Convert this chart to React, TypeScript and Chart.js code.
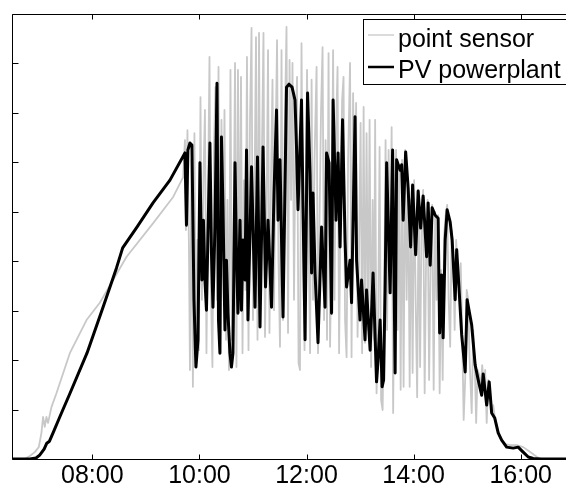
import { useEffect, useRef } from "react";
import { Chart, registerables } from "chart.js";

Chart.register(...registerables);

// time of day in minutes after midnight, values in the (unlabelled) y units 0..900
const sensorTime = [
  390, 404, 410, 415.5, 420, 423, 424.8, 426.7, 428.6, 430.4,
  434.2, 439.8, 454.8, 473.5, 488.4, 503.3, 518.4, 548.2, 570.6, 581.8,
  583.8, 584.9, 586.6, 588.3, 589.4, 591.1, 592.7, 594.4, 596.1, 597.8,
  599.5, 601.2, 602.8, 604.5, 606.2, 607.9, 609.6, 611.3, 612.9, 614.6,
  616.3, 618.0, 619.7, 621.4, 623.0, 624.7, 626.4, 628.1, 629.8, 631.4,
  633.1, 634.8, 636.5, 638.2, 639.9, 641.5, 643.2, 644.9, 646.6, 648.3,
  649.9, 651.6, 653.3, 655.0, 656.7, 658.4, 660.0, 661.7, 663.4, 665.1,
  666.8, 668.5, 670.1, 671.8, 673.5, 675.2, 676.9, 678.5, 680.2, 681.9,
  683.6, 685.3, 687.0, 688.6, 690.3, 692.0, 693.7, 695.4, 697.6, 699.3,
  701.0, 702.7, 704.3, 706.0, 707.7, 709.4, 711.1, 712.7, 714.4, 716.1,
  717.8, 719.5, 720.6, 722.3, 724.0, 725.7, 727.3, 729.0, 731.3, 732.9,
  734.6, 736.3, 738.0, 739.7, 741.4, 743.0, 744.7, 746.4, 748.1, 749.8,
  751.4, 753.1, 754.8, 756.5, 758.2, 759.9, 761.5, 763.2, 764.9, 766.6,
  768.8, 770.5, 772.2, 773.9, 775.6, 777.2, 778.9, 780.6, 782.3, 784.0,
  785.6, 787.3, 789.0, 790.7, 792.4, 794.1, 795.7, 796.9, 798.5, 800.2,
  801.9, 803.6, 805.3, 807.0, 808.6, 810.3, 812.0, 813.7, 815.4, 817.1,
  818.7, 820.4, 822.1, 823.8, 825.5, 827.1, 828.8, 830.5, 832.2, 833.9,
  835.6, 837.2, 838.9, 840.6, 842.3, 844.0, 845.7, 847.3, 849.0, 850.7,
  852.4, 854.1, 855.7, 857.4, 859.1, 860.8, 862.5, 864.2, 865.8, 867.5,
  869.2, 870.9, 872.6, 874.2, 875.9, 877.6, 879.3, 881.0, 882.7, 884.3,
  886.0, 887.7, 889.4, 891.1, 892.8, 894.4, 896.1, 897.8, 899.5, 901.2,
  902.8, 905.1, 906.8, 908.5, 910.1, 911.8, 913.5, 915.2, 916.9, 918.5,
  920.2, 921.9, 923.6, 925.3, 927.5, 929.2, 931.4, 933.7, 935.9, 938.7,
  942.7, 948.3, 955.8, 962.8, 970.7, 978.2, 984.2, 1050,
];
const sensorValue = [
  0, 0, 6, 14, 24, 53, 85, 65, 85, 73,
  105, 133, 214, 281, 316, 362, 409, 477, 530, 570,
  645, 463, 665, 423, 180, 605, 146, 659, 200, 443,
  220, 732, 322, 564, 706, 214, 524, 813, 342, 186,
  625, 752, 322, 793, 214, 686, 402, 706, 241, 524,
  180, 787, 241, 423, 801, 186, 787, 322, 773, 214,
  564, 342, 813, 220, 686, 872, 281, 524, 853, 241,
  862, 322, 625, 862, 247, 483, 827, 255, 564, 767,
  301, 625, 847, 402, 227, 827, 281, 645, 874, 255,
  807, 524, 801, 322, 665, 773, 194, 180, 841, 423,
  220, 605, 787, 463, 214, 767, 322, 605, 793, 214,
  483, 706, 833, 281, 645, 241, 821, 227, 423, 827,
  322, 665, 793, 214, 524, 726, 773, 281, 206, 605,
  801, 206, 740, 524, 720, 247, 423, 680, 214, 712,
  235, 659, 261, 686, 186, 524, 241, 686, 133, 261,
  631, 119, 99, 322, 645, 261, 625, 402, 671, 93,
  443, 625, 261, 595, 140, 605, 146, 625, 322, 564,
  146, 524, 174, 564, 322, 125, 544, 186, 483, 544,
  133, 423, 524, 160, 402, 514, 140, 500, 322, 493,
  133, 382, 160, 453, 493, 514, 322, 227, 463, 423,
  261, 443, 382, 342, 396, 261, 79, 160, 342, 322,
  200, 93, 261, 200, 73, 180, 170, 140, 190, 150,
  180, 73, 160, 140, 93, 109, 79, 63, 47, 38,
  30, 28, 28, 24, 14, 4, 0, 0,
];

const plantTime = [
  390, 410, 417, 421, 426, 429, 432, 436, 444, 455,
  474, 492, 507, 514, 530, 548, 567, 583.8, 585.5, 587.1,
  589.4, 591.6, 593.9, 596.1, 598.4, 600.6, 602.8, 604.5, 606.2, 607.9,
  609.6, 611.8, 613.5, 615.2, 617.4, 619.7, 621.4, 623.0, 624.7, 626.4,
  628.6, 630.3, 632.0, 634.2, 635.9, 637.6, 639.9, 641.5, 643.2, 645.5,
  647.1, 648.8, 651.1, 652.8, 654.4, 658.4, 662.3, 665.1, 667.9, 671.3,
  674.1, 676.9, 680.8, 683.6, 686.4, 688.1, 690.3, 693.7, 697.6, 700.4,
  703.8, 707.1, 708.8, 710.5, 714.4, 716.1, 718.4, 721.2, 724.0, 725.7,
  727.3, 729.6, 732.9, 736.9, 740.8, 742.5, 745.3, 748.1, 749.8, 753.1,
  755.4, 757.6, 760.4, 763.2, 764.9, 768.8, 770.5, 774.4, 776.1, 780.0,
  781.7, 785.6, 787.3, 791.3, 794.6, 798.5, 800.2, 802.5, 804.7, 806.4,
  808.1, 809.8, 813.7, 816.5, 819.3, 821.0, 824.9, 826.6, 828.3, 831.1,
  833.9, 836.7, 838.9, 842.3, 845.1, 847.9, 850.7, 854.6, 856.3, 858.6,
  860.8, 864.2, 867.5, 869.2, 871.4, 873.1, 875.4, 877.6, 881.0, 883.2,
  886.6, 888.3, 890.5, 893.9, 897.8, 900.0, 905.1, 909.0, 912.4, 916.3,
  918.0, 921.9, 924.7, 927.5, 930.9, 934.8, 938.7, 944.3, 951.6, 957.2,
  962.8, 968.5, 974.1, 981.9, 1050,
];
const plantValue = [
  0, 0, 2, 8, 20, 32, 36, 53, 87, 133,
  214, 307, 386, 427, 469, 518, 564, 619, 473, 625,
  639, 635, 322, 186, 241, 599, 362, 483, 362, 301,
  457, 639, 417, 307, 469, 760, 281, 214, 651, 510,
  261, 402, 295, 214, 186, 214, 599, 417, 295, 483,
  301, 443, 362, 625, 281, 591, 307, 611, 267, 631,
  348, 483, 307, 538, 706, 483, 605, 287, 752, 758,
  752, 726, 631, 504, 726, 510, 241, 740, 574, 376,
  538, 376, 235, 469, 307, 619, 599, 295, 726, 483,
  619, 429, 686, 443, 348, 402, 316, 692, 402, 281,
  362, 241, 342, 220, 376, 156, 200, 281, 146, 160,
  348, 599, 336, 625, 174, 605, 584, 595, 483, 621,
  548, 429, 554, 413, 542, 467, 532, 409, 518, 392,
  508, 493, 487, 255, 372, 245, 443, 504, 479, 443,
  322, 423, 358, 251, 176, 322, 271, 190, 160, 129,
  172, 109, 156, 93, 83, 53, 38, 24, 22, 24,
  14, 4, 1, 0, 0,
];

const seriesLabels = ["point sensor", "PV powerplant"];
const xTickValues = [480, 600, 720, 840, 960];
const yTickValues = [0, 100, 200, 300, 400, 500, 600, 700, 800, 900];
const xMin = 390;
const xMax = 1050;
const yMin = 0;
const yMax = 900;

const FONT = '"Liberation Sans", Arial, Helvetica, sans-serif';
const W = 640;
const H = 485;
const SENSOR_COLOR = "rgb(200,200,200)";
const PLANT_COLOR = "#000000";
const SENSOR_WIDTH = 1.8;
const PLANT_WIDTH = 3;

function fmtTime(v: number) {
  const h = Math.floor(v / 60);
  const m = Math.round(v - h * 60);
  return `${String(h).padStart(2, "0")}:${String(m).padStart(2, "0")}`;
}

function toPoints(t: number[], v: number[]) {
  const n = Math.min(t.length, v.length);
  const out: { x: number; y: number }[] = [];
  for (let i = 0; i < n; i++) out.push({ x: t[i], y: v[i] });
  return out;
}

const boxPlugin = {
  id: "matlabBox",
  afterDraw(chart: any) {
    const { ctx, chartArea: a, scales } = chart;
    const L = Math.round(a.left) + 0.5;
    const T = Math.round(a.top) + 0.5;
    const R = Math.round(a.right) - 0.5;
    const B = Math.round(a.bottom) + 0.5;
    ctx.save();
    ctx.strokeStyle = "#000";
    ctx.lineWidth = 1;
    ctx.beginPath();
    ctx.moveTo(L, T);
    ctx.lineTo(R, T);
    ctx.lineTo(R, B);
    ctx.lineTo(L, B);
    ctx.closePath();
    ctx.stroke();
    const tl = 5;
    ctx.beginPath();
    for (const v of xTickValues) {
      const px = Math.round(scales.x.getPixelForValue(v)) + 0.5;
      ctx.moveTo(px, B);
      ctx.lineTo(px, B - tl);
      ctx.moveTo(px, T);
      ctx.lineTo(px, T + tl);
    }
    for (const v of yTickValues) {
      const py = Math.round(scales.y.getPixelForValue(v)) + 0.5;
      ctx.moveTo(L, py);
      ctx.lineTo(L + tl + 1, py);
      ctx.moveTo(R, py);
      ctx.lineTo(R - tl - 1, py);
    }
    ctx.stroke();

    // legend (north-east, inside axes)
    const lx = 363.5;
    const ly = 19.5;
    const lr = Math.round(a.right) - 5.5;
    const lh = 65;
    ctx.fillStyle = "#fff";
    ctx.fillRect(lx, ly, lr - lx, lh);
    ctx.strokeStyle = "#000";
    ctx.lineWidth = 1;
    ctx.strokeRect(lx, ly, lr - lx, lh);
    const entries = [
      { label: seriesLabels[0], color: SENSOR_COLOR, width: 1.3, lineY: 35, textY: 46.5 },
      { label: seriesLabels[1], color: PLANT_COLOR, width: 2.5, lineY: 67, textY: 78 },
    ];
    ctx.font = `25px ${FONT}`;
    ctx.textBaseline = "alphabetic";
    ctx.textAlign = "left";
    for (const e of entries) {
      ctx.strokeStyle = e.color;
      ctx.lineWidth = e.width;
      ctx.beginPath();
      ctx.moveTo(368, e.lineY);
      ctx.lineTo(394, e.lineY);
      ctx.stroke();
      ctx.fillStyle = "#000";
      ctx.fillText(e.label, 398, e.textY);
    }
    ctx.restore();
  },
};

export default function App() {
  const ref = useRef<HTMLCanvasElement | null>(null);

  useEffect(() => {
    const canvas = ref.current;
    if (!canvas) return;
    const plotRight = 601;
    const chart = new Chart(canvas, {
      type: "line",
      data: {
        datasets: [
          {
            label: seriesLabels[1],
            data: toPoints(plantTime, plantValue),
            borderColor: PLANT_COLOR,
            borderWidth: PLANT_WIDTH,
            pointRadius: 0,
            tension: 0,
            borderJoinStyle: "round",
            order: 0,
          },
          {
            label: seriesLabels[0],
            data: toPoints(sensorTime, sensorValue),
            borderColor: SENSOR_COLOR,
            borderWidth: SENSOR_WIDTH,
            pointRadius: 0,
            tension: 0,
            borderJoinStyle: "round",
            order: 1,
          },
        ],
      },
      options: {
        animation: false,
        responsive: false,
        devicePixelRatio: 1,
        events: [],
        layout: { padding: { left: 12, top: 14, right: W - plotRight, bottom: 0 } },
        plugins: { legend: { display: false }, tooltip: { enabled: false } },
        scales: {
          x: {
            type: "linear",
            min: xMin,
            max: xMax,
            afterBuildTicks: (s: any) => {
              s.ticks = xTickValues.map((v) => ({ value: v }));
            },
            afterFit: (s: any) => {
              s.height = 26;
            },
            grid: { display: false, drawTicks: false },
            border: { display: false },
            ticks: {
              autoSkip: false,
              maxRotation: 0,
              padding: 2,
              color: "#000",
              font: { family: FONT, size: 25 },
              callback: (v: any) => fmtTime(Number(v)),
            },
          },
          y: {
            type: "linear",
            min: yMin,
            max: yMax,
            afterBuildTicks: (s: any) => {
              s.ticks = yTickValues.map((v) => ({ value: v }));
            },
            afterFit: (s: any) => {
              s.width = 0;
            },
            grid: { display: false, drawTicks: false },
            border: { display: false },
            ticks: { display: false },
          },
        },
      },
      plugins: [boxPlugin],
    } as any);
    return () => chart.destroy();
  }, []);

  return (
    <div
      style={{
        position: "fixed",
        left: 0,
        top: 0,
        width: 566,
        height: 485,
        overflow: "hidden",
        background: "#fff",
      }}
    >
      <canvas ref={ref} width={W} height={H} style={{ width: W, height: H, display: "block" }} />
    </div>
  );
}
